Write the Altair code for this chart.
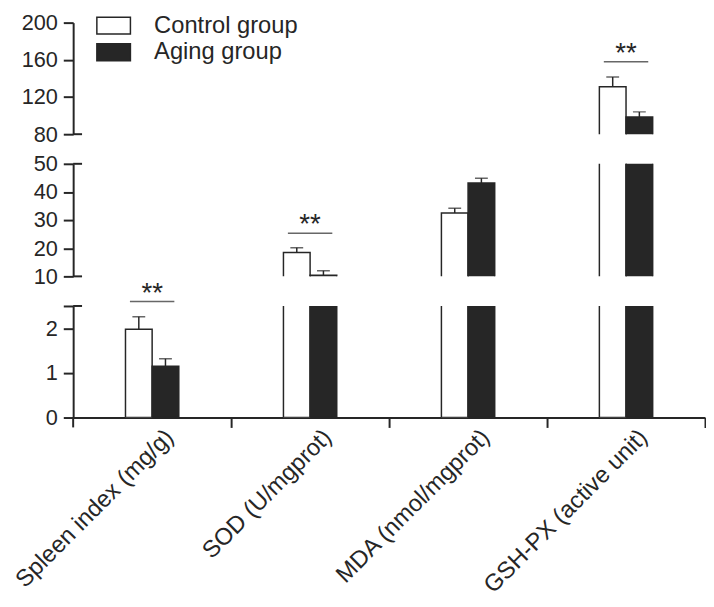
import altair as alt
import pandas as pd

categories = ["Spleen index (mg/g)", "SOD (U/mgprot)", "MDA (nmol/mgprot)", "GSH-PX (active unit)"]
groups = ["Control group", "Aging group"]
control_mean = [1.98, 18.5, 32.5, 131.0]
control_err = [0.28, 1.7, 1.7, 10.5]
aging_mean = [1.15, 10.4, 43.2, 98.5]
aging_err = [0.17, 1.6, 1.7, 5.5]

sig_categories = ["Spleen index (mg/g)", "SOD (U/mgprot)", "GSH-PX (active unit)"]
sig_levels = [2.6, 25.3, 158.0]
sig_panels = ["bottom", "middle", "top"]
sig_labels = ["**", "**", "**"]

top_domain = [80, 200]
top_ticks = [80, 120, 160, 200]
mid_domain = [10, 50]
mid_ticks = [10, 20, 30, 40, 50]
bot_domain = [0, 2.5]
bot_ticks = [0, 1, 2, 2.5]

INK = "#262626"
FONT = "Liberation Sans"

rows = []
for i, c in enumerate(categories):
    rows.append(dict(category=c, group=groups[0], mean=control_mean[i],
                     upper=control_mean[i] + control_err[i]))
    rows.append(dict(category=c, group=groups[1], mean=aging_mean[i],
                     upper=aging_mean[i] + aging_err[i]))
df = pd.DataFrame(rows)

sig_df = pd.DataFrame(dict(category=sig_categories, level=sig_levels,
                           panel=sig_panels, label=sig_labels))

# offset slots: empty spacer slots either side of the two bars
offset_domain = ["_left"] + groups + ["_right"]

legend = alt.Legend(orient="none", legendX=29, legendY=-9, title=None,
                    symbolType="M-2,-1H2V1H-2Z", symbolSize=289,
                    symbolStrokeColor=INK, symbolStrokeWidth=1.5,
                    labelFontSize=24, labelFont=FONT, labelColor=INK,
                    labelOffset=29, rowPadding=3, padding=0)


def panel(name, domain, ticks, inner, height, show_x, show_legend):
    ysc = alt.Scale(domain=domain, nice=False, zero=False)
    yaxis = alt.Axis(values=ticks, tickCount=20, title=None, labelOverlap=False,
                     format="~g",
                     labelExpr="datum.value == 2.5 ? '' : datum.label")
    if show_x:
        xaxis = alt.Axis(title=None, labelAngle=-45, labelAlign="right",
                         labelBaseline="middle", bandPosition=1, tickSize=10,
                         labelPadding=6, labelFontSize=24, labelLimit=0,
                         labelOffset=18, labelOverlap=False)
    else:
        xaxis = None
    xenc = alt.X("category:N", sort=categories, axis=xaxis,
                 scale=alt.Scale(paddingInner=0, paddingOuter=0))
    xoff = alt.XOffset("group:N",
                       scale=alt.Scale(domain=offset_domain, paddingInner=0, paddingOuter=0.963))
    fill = alt.Fill("group:N", sort=groups,
                    scale=alt.Scale(domain=groups, range=["white", INK]),
                    legend=legend if show_legend else None)
    base = alt.Chart(df)
    bars = base.mark_bar(clip=True, stroke=INK, strokeWidth=1.5).encode(
        x=xenc, xOffset=xoff,
        y=alt.Y("mean:Q", scale=ysc, axis=yaxis),
        y2=alt.datum(0), fill=fill)
    err = base.mark_rule(clip=True, color=INK, strokeWidth=1.5).encode(
        x=xenc, xOffset=xoff, y=alt.Y("mean:Q", scale=ysc, axis=yaxis), y2="upper:Q")
    cap = base.mark_tick(clip=True, color=INK, thickness=1.5, size=13).encode(
        x=xenc, xOffset=xoff, y=alt.Y("upper:Q", scale=ysc, axis=yaxis))
    sig = alt.Chart(sig_df).transform_filter(alt.datum.panel == name)
    sig_line = sig.mark_tick(color=INK, thickness=1.5, size=45).encode(
        x=xenc, y=alt.Y("level:Q", scale=ysc, axis=yaxis))
    sig_text = sig.mark_text(color=INK, fontSize=28, font=FONT,
                             baseline="alphabetic", dy=0).encode(
        x=xenc, y=alt.Y("level:Q", scale=ysc, axis=yaxis), text="label:N")
    inner_df = pd.DataFrame(dict(v=inner))
    inner_ticks = alt.Chart(inner_df).mark_rule(color=INK, strokeWidth=2).encode(
        y=alt.Y("v:Q", scale=ysc, axis=yaxis), x=alt.value(0), x2=alt.value(9))
    layers = [bars, err, cap, sig_line, sig_text, inner_ticks]
    if show_x:
        ext = alt.Chart(inner_df).mark_rule(color=INK, strokeWidth=2).encode(
            x=alt.value(0), y=alt.value(height), y2=alt.value(height + 10))
        layers.append(ext)
    return alt.layer(*layers).properties(width=640, height=height)


top = panel("top", top_domain, top_ticks, [80], 113, False, True)
mid = panel("middle", mid_domain, mid_ticks, [10, 50], 114, False, False)
bot = panel("bottom", bot_domain, bot_ticks, [2.5], 113, True, False)

chart = alt.vconcat(top, mid, bot, spacing=30, bounds="flush").resolve_scale(
    y="independent").resolve_legend(fill="independent").properties(
    padding={"left": 3, "top": 0, "right": 0, "bottom": 0}
).configure_axis(
    domainColor=INK, domainWidth=2, tickColor=INK, tickWidth=2, tickSize=10,
    labelFont=FONT, labelFontSize=22, labelColor=INK, grid=False, labelPadding=6
).configure_view(stroke=None)

chart.save("out.html", embed_options={"renderer": "svg", "actions": False})
